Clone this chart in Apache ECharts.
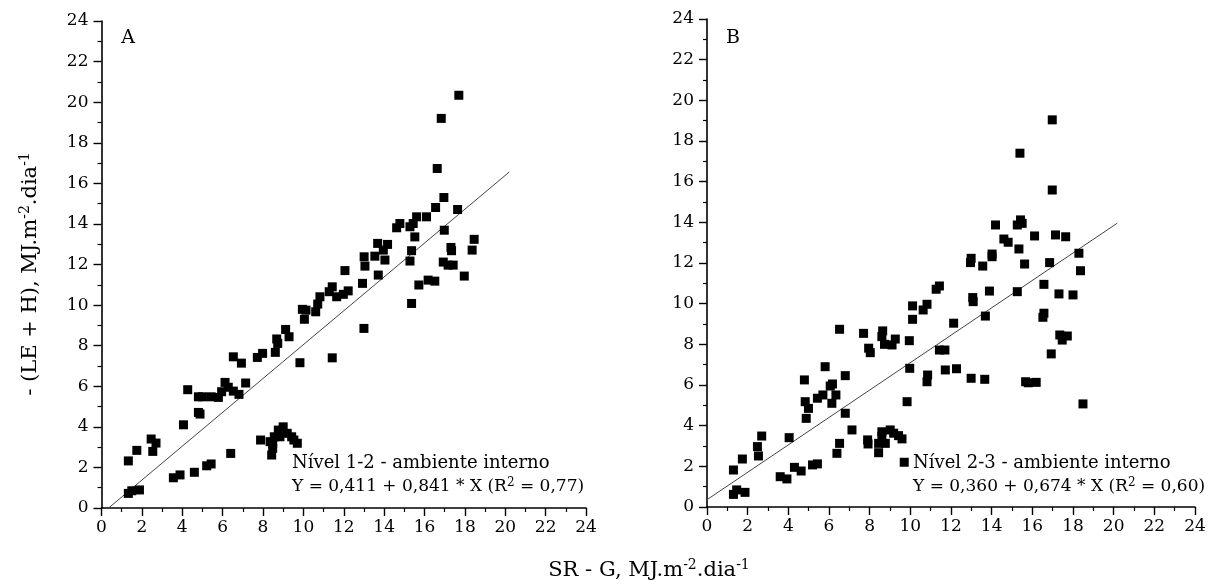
<!DOCTYPE html>
<html>
<head>
<meta charset="utf-8">
<script src="https://cdn.jsdelivr.net/npm/echarts@6/dist/echarts.min.js"></script>
<style>
html,body{margin:0;padding:0;background:#fff;}
#chart{width:1213px;height:586px;}
</style>
</head>
<body>
<div id="chart"></div>
<script>
// ---- Data ----
const ticks = [0,2,4,6,8,10,12,14,16,18,20,22,24];

// Panel A: Nível 1-2 - ambiente interno  [SR-G, -(LE+H)]
const pointsA = [
 [1.33,0.72],[1.5,0.85],[1.88,0.89],[1.33,2.32],[1.75,2.84],[2.46,3.4],[2.7,3.2],[2.54,2.79],
 [4.06,4.1],[4.27,5.83],[4.8,4.71],[4.88,4.63],[4.8,5.48],[5.0,5.48],[5.43,5.48],[5.79,5.45],
 [5.95,5.73],[6.12,6.19],[6.28,5.95],[6.53,5.76],[6.81,5.6],[6.53,7.45],[6.93,7.14],[7.14,6.16],
 [7.72,7.42],[7.98,7.62],[8.61,7.67],[8.68,8.33],[8.73,8.11],[9.12,8.8],[9.29,8.44],[9.83,7.16],
 [9.95,9.79],[10.13,9.75],[10.05,9.3],[10.61,9.67],[10.71,10.05],[10.82,10.41],[11.28,10.66],
 [11.43,10.9],[11.43,7.4],[11.65,10.41],[12.06,11.7],
 [3.56,1.49],[3.89,1.63],[4.6,1.76],[5.21,2.08],[5.43,2.17],[6.4,2.69],[7.88,3.35],[8.43,2.61],
 [8.48,2.94],[8.48,3.19],[8.56,3.51],[8.76,3.84],[9.0,4.0],[8.84,3.51],[9.2,3.68],[9.42,3.51],
 [9.53,3.35],[9.7,3.19],[8.35,3.27],
 [17.7,20.34],[16.83,19.2],[16.63,16.73],[16.96,15.3],[16.55,14.81],[17.64,14.71],[15.61,14.35],
 [16.1,14.35],[14.78,14.02],[14.62,13.81],[15.28,13.86],[15.44,14.02],[15.52,13.36],[16.98,13.69],
 [13.68,13.04],[14.17,12.99],[13.96,12.71],[13.54,12.41],[14.04,12.22],[13.01,12.38],[13.05,11.92],
 [15.36,12.68],[15.28,12.17],[17.31,12.84],[17.34,12.68],[18.46,13.24],[18.36,12.71],[16.93,12.12],
 [17.17,11.97],[17.42,11.97],
 [13.71,11.48],[12.93,11.07],[11.98,10.53],[12.22,10.7],[13.0,8.85],[15.72,10.99],[16.18,11.23],
 [16.51,11.18],[15.36,10.08],[17.97,11.43]
];
const fitA = [[0.35,0],[20.2,16.56]];

// Panel B: Nível 2-3 - ambiente interno
const pointsB = [
 [1.3,0.62],[1.46,0.84],[1.87,0.72],[1.3,1.82],[1.74,2.36],[2.48,2.97],[2.53,2.51],[2.69,3.49],
 [3.6,1.49],[3.93,1.38],[4.04,3.41],[4.3,1.95],[4.63,1.77],[4.79,6.25],[4.83,5.18],[4.99,4.85],
 [4.88,4.36],[5.19,2.07],[5.43,2.12],[5.43,5.35],[5.7,5.51],[5.81,6.9],[6.06,5.95],[6.17,6.05],
 [6.14,5.1],[6.34,5.51],[6.52,8.74],[6.39,2.64],[6.52,3.13],[6.8,6.46],[6.8,4.61],[7.13,3.79],
 [7.7,8.54],[7.95,7.81],[8.03,7.59],[7.9,3.3],[7.92,3.1],[8.44,2.67],[8.44,3.13],[8.6,3.7],
 [8.6,3.46],[8.77,3.13],[9.01,3.79],[9.18,3.63],[9.42,3.51],[9.59,3.35],[9.7,2.2],[8.64,8.66],
 [8.6,8.38],[8.73,8.0],[9.1,7.97],[9.26,8.26],[9.84,5.18],[9.95,8.18],[9.97,6.82],[10.11,9.89],
 [10.11,9.23],[10.63,9.69],[10.82,9.97],[10.85,6.49],[10.82,6.16],[11.27,10.71],[11.43,10.87],
 [11.43,7.72],[11.7,7.72],[11.72,6.74],[12.13,9.04],[12.27,6.8],
 [12.96,12.02],[13.56,11.85],[15.62,11.95],[16.85,12.02],[18.37,11.62],[13.89,10.62],[15.26,10.59],
 [16.57,10.95],[17.31,10.48],[18.0,10.43],[13.07,10.3],[13.09,10.1],[13.69,9.39],[16.57,9.53],
 [16.52,9.33],[17.35,8.46],[17.47,8.21],[17.72,8.41],[16.93,7.53],[12.99,6.33],[13.66,6.28],
 [15.67,6.16],[15.8,6.11],[16.19,6.13],[18.49,5.07],
 [16.98,19.04],[15.39,17.4],[16.98,15.59],[14.19,13.87],[15.26,13.87],[15.42,14.12],[15.5,13.95],
 [14.6,13.18],[14.81,13.02],[16.11,13.33],[17.14,13.38],[17.64,13.29],[15.34,12.69],[14.02,12.44],
 [14.02,12.31],[12.99,12.23],[18.29,12.48]
];
const fitB = [[0,0.36],[20.18,13.96]];

const panelLabels = ['A','B'];
const noteTitles = ['Nível 1-2 - ambiente interno','Nível 2-3 - ambiente interno'];
const noteEqs = ['Y = 0,411 + 0,841 * X (R{sup|2} = 0,77)','Y = 0,360 + 0,674 * X (R{sup|2} = 0,60)'];
const xTitle = 'SR - G, MJ.m{sup|-2}.dia{sup|-1}';
const yTitle = '- (LE + H), MJ.m{sup|-2}.dia{sup|-1}';

// ---- Chart ----
const FONT = '"DejaVu Serif", "Liberation Serif", serif';
function axisCommon() {
  return {
    type: 'value', min: 0, max: 24, interval: 2,
    axisLine: { show: true, onZero: false, lineStyle: { color: '#000', width: 1.6 } },
    axisTick: { show: true, inside: false, length: 8, lineStyle: { color: '#000', width: 1.4 } },
    minorTick: { show: true, splitNumber: 2, length: 4, lineStyle: { color: '#000', width: 1.2 } },
    splitLine: { show: false },
    axisLabel: { color: '#000', fontFamily: FONT, fontSize: 17 }
  };
}
const xA = axisCommon(); xA.gridIndex = 0; xA.axisLabel.margin = 11;
const xB = axisCommon(); xB.gridIndex = 1; xB.axisLabel.margin = 11;
const yA = axisCommon(); yA.gridIndex = 0; yA.axisLabel.margin = 13;
const yB = axisCommon(); yB.gridIndex = 1; yB.axisLabel.margin = 13;

function txt(x, y, text, size, align, extra) {
  return Object.assign({
    type: 'text', x: x, y: y, silent: true,
    style: { text: text, fill: '#000', fontFamily: FONT, fontSize: size,
             textAlign: align, align: align, textVerticalAlign: 'middle', verticalAlign: 'middle',
             rich: { sup: { fontFamily: FONT, fontSize: Math.round(size * 0.68), fill: '#000', padding: [0, 0, Math.round(size * 0.55), 0] } } }
  }, extra || {});
}

const option = {
  animation: false,
  backgroundColor: '#fff',
  grid: [
    { left: 101.5, top: 21, width: 484.5, height: 487 },
    { left: 707, top: 19, width: 488, height: 488 }
  ],
  xAxis: [xA, xB],
  yAxis: [yA, yB],
  series: [
    { type: 'line', xAxisIndex: 0, yAxisIndex: 0, data: fitA, symbol: 'none',
      lineStyle: { color: '#444', width: 1 }, z: 1 },
    { type: 'scatter', xAxisIndex: 0, yAxisIndex: 0, data: pointsA, symbol: 'rect',
      symbolSize: 9, itemStyle: { color: '#000', opacity: 1 }, z: 2 },
    { type: 'line', xAxisIndex: 1, yAxisIndex: 1, data: fitB, symbol: 'none',
      lineStyle: { color: '#444', width: 1 }, z: 1 },
    { type: 'scatter', xAxisIndex: 1, yAxisIndex: 1, data: pointsB, symbol: 'rect',
      symbolSize: 9, itemStyle: { color: '#000', opacity: 1 }, z: 2 }
  ],
  graphic: [
    txt(128, 38, panelLabels[0], 19, 'center'),
    txt(733, 38, panelLabels[1], 19, 'center'),
    txt(292, 463, noteTitles[0], 18, 'left'),
    txt(292, 487, noteEqs[0], 17, 'left'),
    txt(913, 463, noteTitles[1], 18, 'left'),
    txt(913, 487, noteEqs[1], 17, 'left'),
    txt(649, 571, xTitle, 21, 'center'),
    txt(31, 274, yTitle, 21, 'center', { rotation: Math.PI / 2 })
  ]
};

const chart = echarts.init(document.getElementById('chart'), null, { renderer: 'canvas' });
chart.setOption(option);
</script>
</body>
</html>
